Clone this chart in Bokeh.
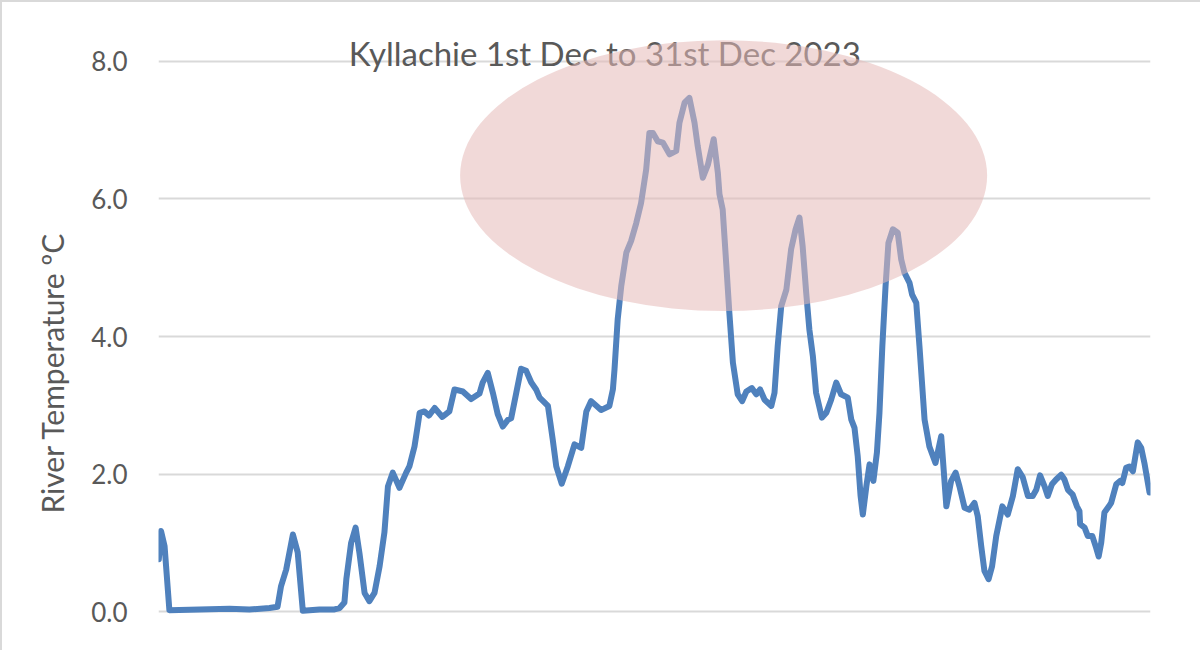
from bokeh.plotting import figure
from bokeh.models import Range1d, FixedTicker, PrintfTickFormatter, Label, Title
from bokeh.embed import file_html
from bokeh.resources import INLINE

# ---- data ----
# time in days since 00:00 on 1st Dec 2023
days = [0.01, 0.08, 0.19, 0.34, 1.28, 2.22, 2.84, 3.47, 3.72, 3.83, 3.99, 4.20, 4.35, 4.51,
        5.03, 5.50, 5.66, 5.81, 5.87, 6.02, 6.16, 6.28, 6.44, 6.59, 6.75, 6.91, 7.06, 7.17,
        7.32, 7.53, 7.74, 7.84, 8.00, 8.10, 8.16, 8.31, 8.45, 8.63, 8.87, 9.09, 9.25, 9.51,
        9.77, 10.03, 10.13, 10.29, 10.45, 10.60, 10.76, 10.92, 11.02, 11.18, 11.33, 11.49,
        11.65, 11.80, 11.91, 12.17, 12.32, 12.43, 12.60, 12.79, 13.00, 13.21, 13.37, 13.52,
        13.83, 14.09, 14.20, 14.25, 14.35, 14.46, 14.62, 14.77, 14.93, 15.08, 15.24, 15.34,
        15.45, 15.60, 15.76, 15.97, 16.18, 16.28, 16.44, 16.59, 16.75, 16.85, 17.01, 17.17,
        17.35, 17.48, 17.53, 17.63, 17.74, 17.84, 17.95, 18.10, 18.24, 18.37, 18.54, 18.68,
        18.80, 18.94, 19.15, 19.25, 19.35, 19.46, 19.62, 19.77, 19.91, 20.03, 20.13, 20.24,
        20.34, 20.45, 20.55, 20.73, 20.87, 21.02, 21.18, 21.33, 21.54, 21.65, 21.75, 21.85,
        21.94, 22.01, 22.12, 22.22, 22.34, 22.45, 22.53, 22.62, 22.72, 22.81, 22.95, 23.10,
        23.21, 23.31, 23.47, 23.55, 23.68, 23.78, 23.94, 24.09, 24.28, 24.46, 24.62, 24.77,
        24.91, 25.03, 25.19, 25.34, 25.50, 25.60, 25.71, 25.81, 25.94, 26.05, 26.18, 26.37,
        26.54, 26.70, 26.85, 27.01, 27.17, 27.32, 27.43, 27.55, 27.69, 27.79, 27.92, 28.05,
        28.21, 28.31, 28.42, 28.57, 28.70, 28.78, 28.80, 28.94, 29.04, 29.18, 29.30, 29.38,
        29.46, 29.56, 29.70, 29.77, 29.93, 30.05, 30.12, 30.24, 30.34, 30.45, 30.60, 30.71,
        30.81, 30.97]

temps = [0.76, 1.17, 0.95, 0.02, 0.03, 0.04, 0.03, 0.05, 0.07, 0.37, 0.61, 1.12, 0.86, 0.01,
         0.03, 0.03, 0.05, 0.13, 0.47, 1.00, 1.22, 0.85, 0.27, 0.15, 0.27, 0.66, 1.15, 1.82,
         2.02, 1.80, 2.02, 2.11, 2.40, 2.70, 2.89, 2.91, 2.85, 2.96, 2.83, 2.91, 3.23, 3.20,
         3.09, 3.17, 3.33, 3.47, 3.18, 2.87, 2.69, 2.79, 2.81, 3.18, 3.53, 3.50,
         3.33, 3.23, 3.11, 2.99, 2.50, 2.11, 1.86, 2.11, 2.43, 2.38, 2.91, 3.06,
         2.93, 2.99, 3.23, 3.52, 4.25, 4.73, 5.22, 5.39, 5.65, 5.94, 6.43, 6.96,
         6.96, 6.84, 6.82, 6.65, 6.70, 7.11, 7.40, 7.47, 7.11, 6.77, 6.31, 6.50,
         6.87, 6.38, 6.07, 5.85, 5.07, 4.34, 3.62, 3.16, 3.06, 3.20, 3.25, 3.16,
         3.23, 3.08, 2.99, 3.18, 3.86, 4.44, 4.68, 5.27, 5.56, 5.73, 5.31, 4.64,
         4.10, 3.71, 3.18, 2.82, 2.89, 3.08, 3.33, 3.16, 3.11, 2.79, 2.67, 2.26,
         1.68, 1.41, 1.82, 2.14, 1.90, 2.31, 2.89, 3.86, 4.73, 5.36, 5.56, 5.51,
         5.12, 4.93, 4.78, 4.61, 4.49, 3.86, 2.79, 2.40, 2.16, 2.55, 1.53, 1.90,
         2.02, 1.82, 1.51, 1.48, 1.58, 1.39, 0.95, 0.59, 0.47, 0.66, 1.10, 1.53,
         1.41, 1.68, 2.07, 1.95, 1.68, 1.68, 1.77, 1.98, 1.82, 1.68, 1.85, 1.92,
         1.99, 1.92, 1.77, 1.70, 1.53, 1.46, 1.27, 1.22, 1.10, 1.10, 0.93, 0.80,
         1.00, 1.44, 1.53, 1.58, 1.85, 1.90, 1.87, 2.09, 2.11, 2.04, 2.46, 2.38,
         2.16, 1.73]

y_ticks = [0, 2, 4, 6, 8]
title_text = "Kyllachie  1st Dec to 31st Dec 2023"
y_label_text = "River Temperature \u00baC"

# highlight ellipse (data units)
ell_x, ell_y, ell_w, ell_h = 17.66, 6.34, 16.47, 3.94

FONT = "Lato"
GREY = "#595959"

p = figure(width=1200, height=650, output_backend="svg", toolbar_location=None,
           x_range=Range1d(0, 31), y_range=Range1d(-0.407, 8.727),
           min_border_left=156, min_border_right=52, min_border_top=9, min_border_bottom=13)
p.styles = {"border-top": "2px solid #d9d9d9", "border-left": "2px solid #d9d9d9"}
p.outline_line_color = None
p.background_fill_color = "white"
p.border_fill_color = "white"

p.xaxis.visible = False
p.xgrid.visible = False
p.ygrid.ticker = FixedTicker(ticks=y_ticks)
p.ygrid.grid_line_color = "#d9d9d9"
p.ygrid.grid_line_width = 2

ya = p.yaxis[0]
ya.ticker = FixedTicker(ticks=y_ticks)
ya.formatter = PrintfTickFormatter(format="%.1f")
ya.axis_line_color = None
ya.major_tick_line_color = None
ya.minor_tick_line_color = None
ya.major_tick_out = 0
ya.major_tick_in = 0
ya.major_label_standoff = 31
ya.major_label_text_font = FONT
ya.major_label_text_font_size = "26px"
ya.major_label_text_color = GREY

p.line(days, temps, line_color="#4f81bd", line_width=6, line_join="round", line_cap="round")

title = Label(x=14.08, y=8.12, text=title_text, text_font=FONT, text_font_size="33px",
              text_color=GREY, text_align="center", text_baseline="alphabetic")
p.add_layout(title)

ylab = Title(text=y_label_text, text_font=FONT, text_font_size="30px", text_font_style="normal",
             text_color=GREY, align="left", offset=126, standoff=37)
p.add_layout(ylab, "left")

ell = p.ellipse(x=[ell_x], y=[ell_y], width=[ell_w], height=[ell_h],
                fill_color="#e6b9b8", fill_alpha=0.55, line_color=None)
ell.level = "overlay"

open("out.html", "w").write(file_html(p, INLINE))
